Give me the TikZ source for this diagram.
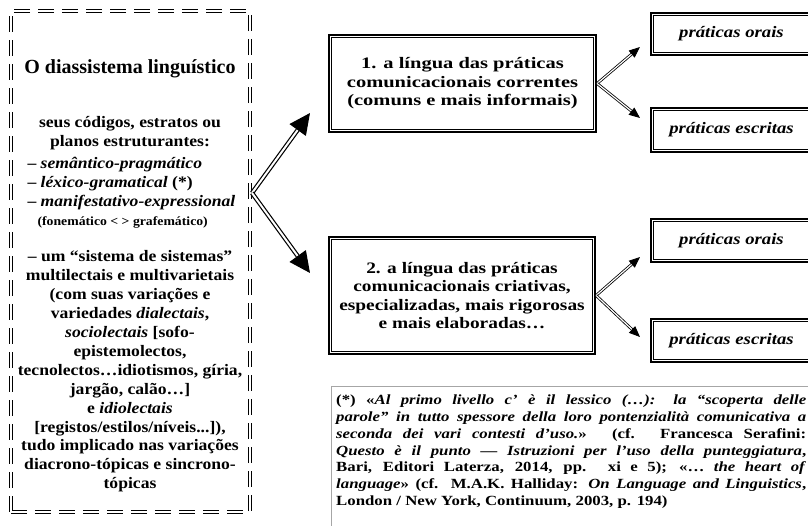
\documentclass[tikz,border=0pt]{standalone}
\usepackage{fontspec}
\setmainfont{Liberation Serif}
\newfontfamily\fontecorpo[FakeStretch=1.1]{Liberation Serif}
\newfontfamily\fontecaixa[FakeStretch=1.28]{Liberation Serif}
\newfontfamily\fontecaixaii[FakeStretch=1.21]{Liberation Serif}
\newfontfamily\fontepratica[FakeStretch=1.17]{Liberation Serif}
\newfontfamily\fontenota[FakeStretch=1.2]{Liberation Serif}
\usetikzlibrary{arrows.meta}
\tikzset{
  quadro/.style={draw, line width=2.2pt, inner sep=0pt, align=center},
  filete/.style={draw, line width=1.1pt},
  tracejado/.style={draw, double, line width=1.3pt, double distance=2pt,
    dash pattern=on 16pt off 8pt},
  seta/.style={double, line width=1.2pt, double distance=2pt,
    -{Triangle[length=21pt,width=20pt]}},
  setinha/.style={double, line width=0.8pt, double distance=1.2pt,
    -{Triangle[length=11pt,width=9pt]}},
  corpo/.style={font=\fontecorpo\bfseries\fontsize{16}{18.9}\selectfont},
  caixa/.style={font=\fontecaixa\bfseries\fontsize{16}{18.5}\selectfont},
  caixaii/.style={font=\fontecaixaii\bfseries\fontsize{16}{18.5}\selectfont},
  pratica/.style={quadro, minimum width=161,
    font=\fontepratica\bfseries\itshape\fontsize{16}{18.5}\selectfont}
}
\begin{document}
\begin{tikzpicture}[x=1pt,y=-1pt]
  \useasboundingbox (0,0) rectangle (808,525);
  % o diassistema
  \node (diassistema) [tracejado, minimum width=239, minimum height=501] at (130.5,261.5) {};
  \node (titulo) [font=\bfseries\fontsize{20}{24}\selectfont] at (130,69) {O diassistema linguístico};
  \node (codigos) [corpo, align=center] at (130,133.5) {seus códigos, estratos ou\\planos estruturantes:};
  \node (planos) [corpo, anchor=west, align=left] at (24,193) {%
    – \textit{semântico-pragmático}\\
    – \textit{léxico-gramatical} (*)\\
    – \textit{manifestativo-expressional}\\
    \hspace*{10pt}{\fontsize{12.5}{18.9}\selectfont(fonemático < > grafemático)}};
  \node (sistemas) [corpo, align=center] at (130,371.5) {%
    – um “sistema de sistemas”\\
    multilectais e multivarietais\\
    (com suas variações e\\
    variedades \textit{dialectais},\\
    \textit{sociolectais} {[}sofo-\\
    epistemolectos,\\
    tecnolectos…idiotismos, gíria,\\
    jargão, calão…{]}\\
    e \textit{idiolectais}\\
    {[}registos/estilos/níveis...{]}),\\
    tudo implicado nas variações\\
    diacrono-tópicas e sincrono-\\
    tópicas};
  % as duas línguas
  \node (lingua1) [quadro, caixa, minimum width=267, minimum height=97] at (462.5,83.5)
    {1. a língua das práticas\\comunicacionais correntes\\(comuns e mais informais)};
  \node (lingua2) [quadro, caixaii, minimum width=266, minimum height=117] at (462,295.5)
    {2. a língua das práticas\\comunicacionais criativas,\\especializadas, mais rigorosas\\e mais elaboradas…};
  % as práticas
  \node (orais1) [pratica, minimum height=42] at (731.5,34) {práticas orais};
  \node (escritas1) [pratica, minimum height=44] at (731.5,130) {práticas escritas};
  \node (orais2) [pratica, minimum height=43] at (731.5,240.5) {práticas orais};
  \node (escritas2) [pratica, minimum height=43] at (731.5,340.5) {práticas escritas};
  \foreach \caixa in {lingua1,lingua2,orais1,escritas1,orais2,escritas2}
    \draw[filete] ([shift={(4pt,4pt)}]\caixa.south west) rectangle ([shift={(-4pt,-4pt)}]\caixa.north east);
  % setas
  \coordinate (bifurca) at (252,193);
  \coordinate (ponta1) at (310,113);
  \coordinate (ponta2) at (310,273);
  \draw[seta] (bifurca) -- (ponta1);
  \draw[seta] (bifurca) -- (ponta2);
  \coordinate (oral1) at (640,47);
  \coordinate (escrita1) at (640,118);
  \coordinate (oral2) at (640,257);
  \coordinate (escrita2) at (640,337);
  \draw[setinha] (lingua1.east) -- (oral1);
  \draw[setinha] (lingua1.east) -- (escrita1);
  \draw[setinha] (lingua2.east) -- (oral2);
  \draw[setinha] (lingua2.east) -- (escrita2);
  % nota
  \node (nota) [anchor=north west, text width=470, align=justify, inner sep=0pt,
    font=\fontenota\bfseries\fontsize{14}{16.7}\selectfont] at (336,395) {%
    (*) «\textit{Al primo livello c’ è il lessico (…): la “scoperta delle}\linebreak
    \textit{parole” in tutto spessore della loro pontenzialità comunicativa a}\linebreak
    \textit{seconda dei vari contesti d’uso.}» (cf. Francesca Serafini:\linebreak
    \textit{Questo è il punto — Istruzioni per l’uso della punteggiatura},\linebreak
    Bari, Editori Laterza, 2014, pp. xi e 5); «… \textit{the heart of}\linebreak
    \textit{language}» (cf. M.A.K. Halliday: \textit{On Language and Linguistics},\linebreak
    London / New York, Continuum, 2003, p. 194)};
  \draw[gray!70, line width=1pt] ([shift={(-5,-9)}]nota.north west) rectangle ([shift={(5,40)}]nota.south east);
\end{tikzpicture}
\end{document}
